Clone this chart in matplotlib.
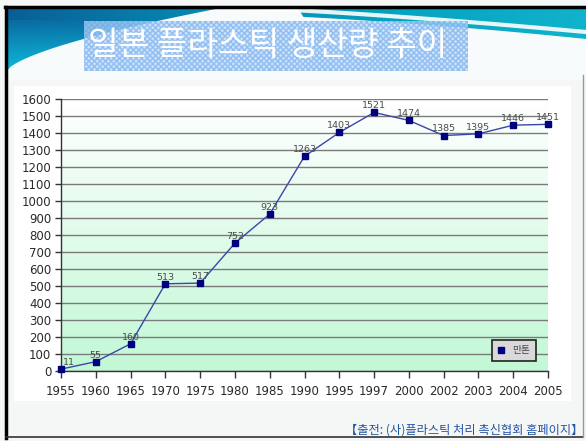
import numpy as np
import matplotlib
matplotlib.use('Agg')
import matplotlib.pyplot as plt
from matplotlib.patches import Rectangle, Polygon
from matplotlib.colors import LinearSegmentedColormap

# 데이터
years = ['1955', '1960', '1965', '1970', '1975', '1980', '1985', '1990',
         '1995', '1997', '2000', '2002', '2003', '2004', '2005']
production = [11, 55, 160, 513, 517, 752, 923, 1263, 1403, 1521, 1474,
              1385, 1395, 1446, 1451]
y_ticks = list(range(0, 1700, 100))
title = '일본 플라스틱 생산량 추이'
legend_label = '만톤'
source = '【출전: (사)플라스틱 처리 촉신협회 홈페이지】'

plt.rcParams['font.family'] = ['DejaVu Sans', 'Noto Sans CJK KR']
KR = ['Noto Sans CJK KR', 'DejaVu Sans']

W, H = 586, 441
fig = plt.figure(figsize=(W / 100, H / 100), dpi=100)

# 슬라이드 배경 (픽셀 좌표)
bg = fig.add_axes([0, 0, 1, 1])
bg.set_xlim(0, W)
bg.set_ylim(H, 0)
bg.axis('off')
bg.add_patch(Rectangle((0, 0), W, H, facecolor='#f5f6f6', edgecolor='none'))

# 상단 배너 그라데이션
banner_cmap = LinearSegmentedColormap.from_list(
    'banner', ['#0a5f95', '#0788b3', '#02a4c0', '#10b2cc'])
grad = np.linspace(0, 1, 256).reshape(1, -1)
bg.imshow(grad, cmap=banner_cmap, extent=(6, W, 75, 7), aspect='auto', zorder=1)
left_cmap = LinearSegmentedColormap.from_list('lc', ['#0a6fa5', '#10d8f0'])
bg.imshow(np.linspace(0, 1, 64).reshape(-1, 1), cmap=left_cmap,
          extent=(6, 120, 75, 20), aspect='auto', zorder=1, alpha=0.8)

# 흰 곡선 영역
xs = np.linspace(6, W, 120)
curve = 72 - 122 * ((xs - 6) / (W - 6)) ** 0.65
curve = np.maximum(curve, 9)
right_low = 9 + 30 * ((xs - 6) / (W - 6)) ** 2
lower = np.where(xs < 300, curve, np.maximum(curve, right_low))
pts = list(zip(xs, lower)) + [(W, 80), (6, 80)]
bg.add_patch(Polygon(pts, closed=True, facecolor='#f8fbfc', edgecolor='none', zorder=2))
sx = np.linspace(240, W, 60)
sy = 8 + 24 * ((sx - 240) / (W - 240)) ** 1.3
bg.plot(sx, sy, color='white', lw=3, zorder=3, alpha=0.9)

# 제목 상자
bg.add_patch(Rectangle((84, 21), 384, 50, facecolor='#bcd9f7', edgecolor='none',
                       alpha=0.75, zorder=4))
bg.add_patch(Rectangle((84, 21), 384, 50, facecolor='none', edgecolor='#6aa8ee',
                       hatch='xxxxxx', lw=0, alpha=0.6, zorder=4))
bg.text(268, 46, title, color='white', fontsize=24, ha='center', va='center',
        family=KR, zorder=5)

# 차트 흰 영역
bg.add_patch(Rectangle((14, 86), 557, 315, facecolor='white', edgecolor='none', zorder=1))

# 테두리
bg.plot([5, W], [7, 7], color='black', lw=2.5, zorder=6)
bg.plot([6, 6], [7, 438], color='black', lw=2.5, zorder=6)
bg.plot([6, 583], [437, 437], color='#333333', lw=1.2, zorder=6)
bg.plot([583, 583], [75, 437], color='#999999', lw=1, zorder=6)

# 출처
bg.text(583, 430, source, color='#2255a4', fontsize=8.8, ha='right', va='center',
        family=KR, zorder=6)

# 그래프
ax = fig.add_axes([61 / W, 1 - 371 / H, (548 - 61) / W, (371 - 99) / H])
ax.set_facecolor('none')
x = np.arange(len(years))
ax.set_xlim(0, len(years) - 1)
ax.set_ylim(0, 1600)

green_cmap = LinearSegmentedColormap.from_list('g', ['#c2f8d6', '#ffffff'])
ax.imshow(np.linspace(0, 1, 256).reshape(-1, 1), cmap=green_cmap,
          extent=(0, len(years) - 1, 0, 1600), origin='lower', aspect='auto', zorder=0)

for t in y_ticks:
    ax.axhline(t, color='#7a7a7a', lw=1, zorder=1)

ax.plot(x, production, color='#3a46a8', lw=1, marker='s', markersize=5,
        markerfacecolor='#000080', markeredgecolor='#000080', zorder=3,
        label=legend_label, clip_on=False)

for i, v in enumerate(production):
    dx = 6 if i == 0 else 0
    ax.annotate(str(v), (x[i], v), xytext=(dx, 1.5), textcoords='offset points',
                ha='center', va='bottom', fontsize=6.8, color='#4a4a4a', zorder=4)

ax.set_xticks(x)
ax.set_xticklabels(years)
ax.set_yticks(y_ticks)
ax.tick_params(axis='x', length=5, width=1, color='#333333', labelsize=8.5,
               labelcolor='#2a2a2a', pad=5)
ax.tick_params(axis='y', length=4, width=1, color='#333333', labelsize=8.5,
               labelcolor='#2a2a2a', pad=3)
for s in ['top', 'right']:
    ax.spines[s].set_visible(False)
for s in ['left', 'bottom']:
    ax.spines[s].set_color('#333333')
    ax.spines[s].set_linewidth(1)

leg = ax.legend(loc='lower right', bbox_to_anchor=(0.985, 0.02),
                frameon=True, fancybox=False, handlelength=0.8, handletextpad=0.8,
                borderpad=0.55, prop={'family': KR, 'size': 7})
leg.get_frame().set_facecolor('#d9d9d9')
leg.get_frame().set_edgecolor('#222222')
leg.get_frame().set_linewidth(1.2)
leg.get_frame().set_alpha(1)
for t in leg.get_texts():
    t.set_color('#444444')
for h in leg.legend_handles:
    h.set_linestyle('none')

fig.savefig('out.png', dpi=100)
